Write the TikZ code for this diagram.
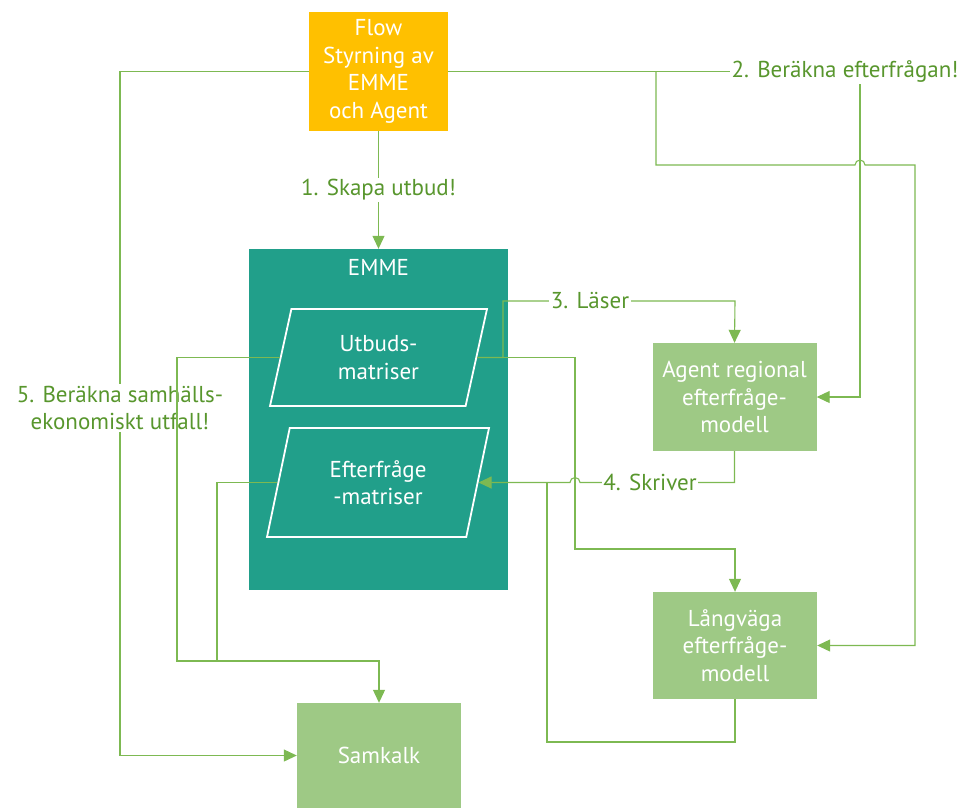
\documentclass[tikz,border=0pt]{standalone}
\usepackage{fontspec}
\setmainfont{PT Sans}
\usepackage{xcolor}
\usepackage{tikz}
\usetikzlibrary{
	arrows.meta,shapes.geometric
}
\definecolor{flowgold}{RGB}{255,192,0}
\definecolor{emmeteal}{RGB}{33,159,138}
\definecolor{modgreen}{RGB}{158,201,133}
\definecolor{linkgreen}{RGB}{125,185,82}
\definecolor{labgreen}{RGB}{88,150,45}
\begin{document}
\begin{tikzpicture}[x=1pt,y=-1pt,
	font=\fontsize{23}{27.5}\selectfont,
	box/.style={rectangle,align=center,text=white,inner sep=0pt},
	flowbox/.style={box,fill=flowgold,minimum width=139pt,minimum height=119pt},
	modbox/.style={box,fill=modgreen,minimum width=164pt,minimum height=107pt},
	matbox/.style={trapezium,trapezium stretches body,draw=white,line width=1.8pt,
		fill=emmeteal,text=white,align=center,inner sep=0pt},
	link/.style={color=linkgreen,line width=1.1pt,-{Triangle[length=13pt,width=12pt]}},
	plain/.style={color=linkgreen,line width=1.1pt},
	lab/.style={fill=white,text=labgreen,align=center,inner sep=1.5pt}]
			\useasboundingbox (0,0) rectangle (965,807);
			\node[flowbox] (F) at (378.5,71.5) {Flow\\Styrning av\\EMME\\och Agent};
			\node[box,fill=emmeteal,minimum width=259pt,minimum height=341pt] (E) at (378.5,419.5) {};
			\node[box] (Elab) at (378.5,267) {EMME};
			\node[matbox,trapezium left angle=64,trapezium right angle=116,
				minimum width=217pt,minimum height=97pt] (U) at (378.5,357.5) {Utbuds-\\matriser};
			\node[matbox,trapezium left angle=63,trapezium right angle=117,
				minimum width=222pt,minimum height=109pt] (D) at (378,482.5) {Efterfråge\\-matriser};
			\node[modbox,minimum height=108pt] (A) at (734.5,397) {Agent regional\\efterfråge-\\modell};
			\node[modbox] (L) at (735,645.5) {Långväga\\efterfråge-\\modell};
			\node[modbox,minimum height=105pt] (S) at (379,755.5) {Samkalk};
			\coordinate (b2) at (656,71.5);
			%
			\draw[link] (F) -- node[lab]{1. Skapa utbud!} (E);
			\draw[link] (F.east) -- (860,71.5) |- (A.east);
			\draw[link] (b2) |- (855,165) arc[start angle=180,end angle=360,radius=5] -- (915,165) |- (L.east);
			\node[lab] (l2) at (845,71.5) {2. Beräkna efterfrågan!};
			\draw[link] (F.west) -- (120,71.5) |- (S.west);
			\node[lab] (l5) at (120,408) {5. Beräkna samhälls-\\ekonomiskt utfall!};
			\draw[link] (U.east) -- (503,357.5) |- (735,301) -- (A.north);
			\node[lab] (l3) at (590,301) {3. Läser};
			\draw[link] (U.east) -| (575,549) -| (L.north);
			\draw[link] (A.south) |- (580,482.5) arc[start angle=0,end angle=-180,radius=5] -- (D.east);
			\node[lab] (l4) at (650,482.5) {4. Skriver};
			\draw[plain] (L.south) -- (735,742) -| (547,482.5);
			\draw[link] (U.west) -| (177,661) -| (S.north);
			\draw[plain] (D.west) -| (217,661);
		\end{tikzpicture}
\end{document}
